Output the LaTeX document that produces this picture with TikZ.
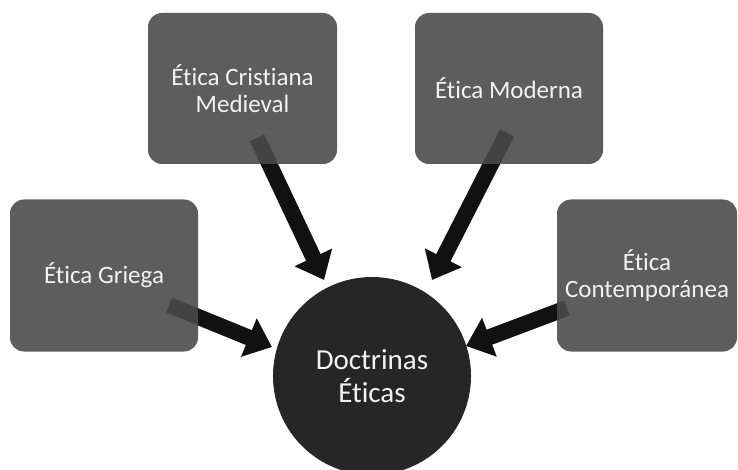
\documentclass[tikz,border=0pt]{standalone}
\usepackage{fontspec}
\setmainfont{Carlito}[Ligatures={NoCommon}]
\usetikzlibrary{arrows.meta}
\definecolor{boxgray}{HTML}{4A4A4A}
\definecolor{circfill}{HTML}{262626}
\definecolor{arrowblk}{HTML}{111111}
\definecolor{txtwhite}{HTML}{F2F2F2}
\tikzset{
  ethbox/.style={rectangle, rounded corners=14pt, fill=boxgray, fill opacity=0.89, text opacity=1,
    text=txtwhite, font=\fontsize{25}{27}\selectfont, align=center, inner sep=0pt},
  hubcirc/.style={circle, fill=circfill, text=txtwhite, font=\fontsize{29}{33}\selectfont,
    align=center, minimum size=198pt, inner sep=0pt},
  bigarrow/.style={draw=arrowblk, line width=16pt, -{Triangle[width=40pt,length=25pt]}}
}
\begin{document}
\begin{tikzpicture}[x=1pt,y=-1pt]
\useasboundingbox (0,0) rectangle (738,470);
\fill[white] (0,0) rectangle (738,470);
\node[hubcirc] (hub) at (372,376) {Doctrinas\\Éticas};
% arrow end points
\coordinate (gT) at (169,305);
\coordinate (gH) at (272,347);
\coordinate (mT) at (257,138);
\coordinate (mH) at (324,280);
\coordinate (oT) at (507,133);
\coordinate (oH) at (432,280);
\coordinate (cT) at (567,308);
\coordinate (cH) at (466,346);
\draw[bigarrow] (gT) -- (gH);
\draw[bigarrow] (mT) -- (mH);
\draw[bigarrow] (oT) -- (oH);
\draw[bigarrow] (cT) -- (cH);
\node[ethbox, minimum width=188pt, minimum height=152pt] (griega) at (104,275.5) {Ética Griega};
\node[ethbox, minimum width=189pt, minimum height=151pt] (medieval) at (242.5,88.5) {Ética Cristiana\\Medieval};
\node[ethbox, minimum width=188pt, minimum height=151pt] (moderna) at (509,88.5) {Ética Moderna};
\node[ethbox, minimum width=180pt, minimum height=152pt] (contemp) at (647,275.5) {Ética\\Contemporánea};
\end{tikzpicture}
\end{document}
